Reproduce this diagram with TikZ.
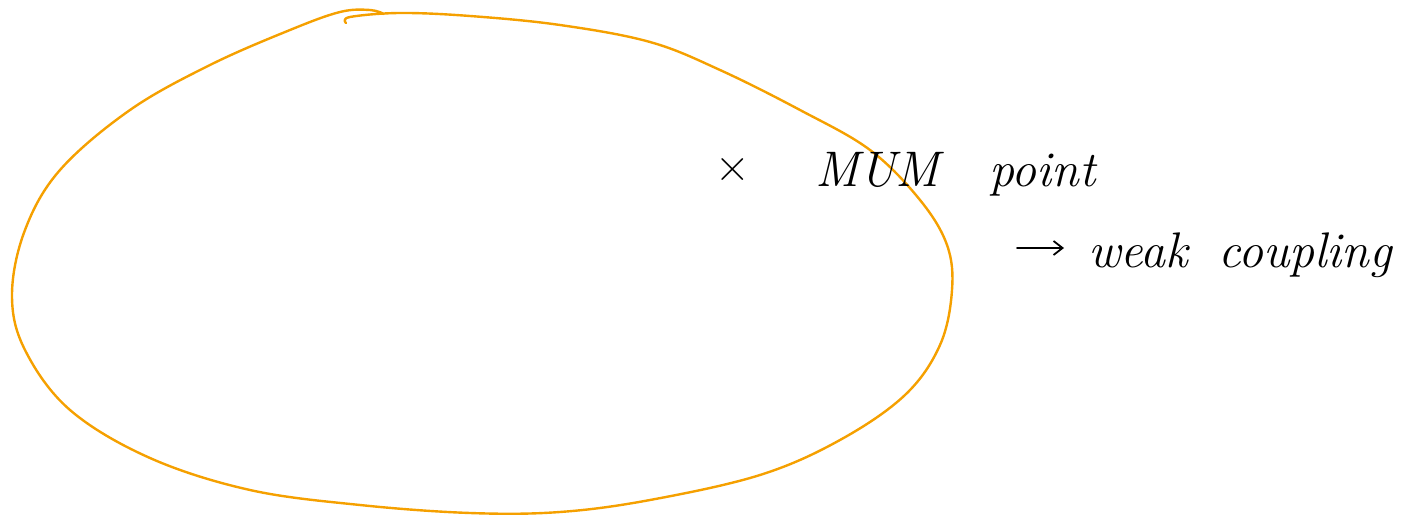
\documentclass[tikz,border=0pt]{standalone}
\usepackage{fontspec}
\usetikzlibrary{arrows.meta}
\begin{document}
\begin{tikzpicture}[x=1pt,y=-1pt,
  loop/.style={draw=orangeline,line width=2.4pt,line cap=round,line join=round},
  hand/.style={font=\fontsize{50}{60}\selectfont\itshape,inner sep=0pt,anchor=base west},
  arr/.style={-{Straight Barb[length=9pt,width=14pt,line width=1.8pt]},line width=2pt,line cap=round}]
\definecolor{orangeline}{HTML}{F5A000}
\useasboundingbox (0,0) rectangle (1412,518);
\draw[loop] plot[smooth,tension=0.6] coordinates {
 (346,23) (350,17) (400,13) (470,16) (560,25) (650,42) (720,70) (800,110)
 (870,150) (920,200) (947,245) (952,290) (940,345) (905,395) (840,440)
 (760,475) (650,500) (560,512) (470,513) (360,505) (250,490) (150,458)
 (70,410) (25,350) (12,295) (25,230) (60,170) (130,110) (210,65) (290,30)
 (340,12) (370,10) (384,14)};
\node[font=\fontsize{48}{56}\selectfont,inner sep=0pt] (cross) at (733,170) {×};
\node[hand] (mum) at (815,187) {MUM\hspace{50pt}point};
\node[hand] (weak) at (1088,268) {weak\hspace{30pt}coupling};
\coordinate (astart) at (1017,248);
\draw[arr,shorten >=24pt] (astart) -- (weak.west |- astart);
\end{tikzpicture}
\end{document}
